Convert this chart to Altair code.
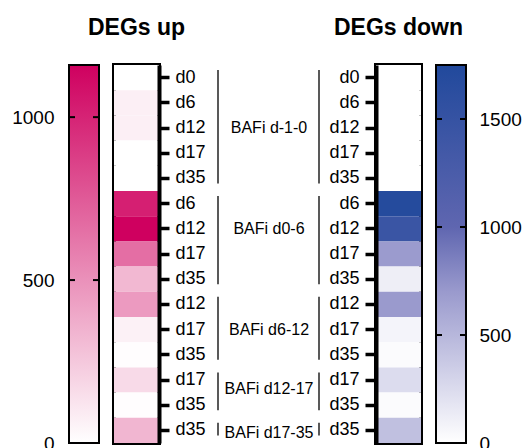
import altair as alt
import pandas as pd

# ---------------- data ----------------
groups = ["BAFi d-1-0", "BAFi d0-6", "BAFi d6-12", "BAFi d12-17", "BAFi d17-35"]
group_days = [
    ["d0", "d6", "d12", "d17", "d35"],
    ["d6", "d12", "d17", "d35"],
    ["d12", "d17", "d35"],
    ["d17", "d35"],
    ["d35"],
]
degs_up = [0, 75, 75, 0, 0, 1020, 1160, 660, 325, 460, 65, 10, 170, 8, 330]
degs_down = [0, 0, 0, 0, 0, 1700, 1450, 690, 120, 700, 75, 28, 245, 28, 435]
label_rows = [2.5, 6.5, 10.5, 12.85, 14.6]  # vertical position of group labels (in rows)

up_max = 1160
down_max = 1750
up_ticks = [0, 500, 1000]
down_ticks = [0, 500, 1000, 1500]

days_flat = [d for g in group_days for d in g]
row_keys = [f"{i:02d}_{d}" for i, d in enumerate(days_flat)]
n_rows = len(row_keys)

df = pd.DataFrame({"row": row_keys, "day": days_flat, "up": degs_up, "down": degs_down})

counts = [len(g) for g in group_days]
starts = [sum(counts[:i]) for i in range(len(counts))]
grp = pd.DataFrame({"group": groups, "start": starts, "n": counts, "lab": label_rows})

# ---------------- styling ----------------
FONT = "Liberation Sans"
H = 378
CBW = 30
HMW = 45
MIDW = 187
PINK = "#CF005F"
BLUE_RANGE = ["#FFFFFF", "#9A9ACD", "#5F66B0", "#21499C"]
BLUE_DOMAIN = [0, 700, 1000, down_max]

no_stroke = alt.ViewBackground(stroke="transparent")
box_stroke = alt.ViewBackground(stroke="black", strokeWidth=4)

band = alt.Scale(domain=row_keys, paddingInner=0, paddingOuter=0)


def heat_axis(orient, tick_size):
    return alt.Axis(
        orient=orient,
        labelExpr="split(datum.value, '_')[1]",
        labelFontSize=18,
        labelColor="black",
        labelPadding=6,
        ticks=True,
        tickSize=tick_size,
        tickWidth=3.5,
        tickColor="black",
        domain=True,
        domainColor="black",
        domainWidth=4,
        grid=False,
        title=None,
    )


def colorbar(maxv, ticks, stops, orient):
    base = pd.DataFrame({"lo": [0], "hi": [maxv]})
    scale = alt.Scale(domain=[0, maxv], nice=False, zero=True)
    grad = {"gradient": "linear", "x1": 0, "x2": 0, "y1": 1, "y2": 0, "stops": stops}
    bar = alt.Chart(base).mark_rect(fill=grad, stroke="black", strokeWidth=2).encode(
        y=alt.Y(
            "lo:Q",
            scale=scale,
            axis=alt.Axis(
                orient=orient,
                values=ticks,
                format="d",
                ticks=False,
                domain=False,
                grid=False,
                labelFontSize=19,
                labelColor="black",
                labelPadding=15 if orient == "left" else 13,
                title=None,
            ),
        ),
        y2="hi:Q",
        x=alt.value(0),
        x2=alt.value(CBW),
    )
    tdf = pd.DataFrame({"t": ticks})
    tl = alt.Chart(tdf).mark_rule(color="black", strokeWidth=2).encode(
        y=alt.Y("t:Q", scale=scale), x=alt.value(0), x2=alt.value(6)
    )
    tr = alt.Chart(tdf).mark_rule(color="black", strokeWidth=2).encode(
        y=alt.Y("t:Q", scale=scale), x=alt.value(CBW - 6), x2=alt.value(CBW)
    )
    return alt.layer(bar, tl, tr).properties(width=CBW, height=H, view=no_stroke)


cb_up = colorbar(
    up_max, up_ticks,
    [{"offset": 0, "color": "#FFFFFF"}, {"offset": 1, "color": PINK}],
    "left",
)
cb_down = colorbar(
    down_max, down_ticks,
    [{"offset": v / down_max, "color": c} for v, c in zip(BLUE_DOMAIN, BLUE_RANGE)],
    "right",
)

title_kw = dict(fontSize=23, fontWeight="bold", font=FONT, offset=25, color="black")

heat_up = alt.Chart(df).mark_rect().encode(
    y=alt.Y("row:N", sort=row_keys, scale=band, axis=heat_axis("right", 10)),
    color=alt.Color(
        "up:Q",
        scale=alt.Scale(domain=[0, up_max], range=["#FFFFFF", PINK], interpolate="rgb"),
        legend=None,
    ),
).properties(
    width=HMW, height=H, view=box_stroke,
    title=alt.TitleParams("DEGs up", **title_kw),
)

heat_down = alt.Chart(df).mark_rect().encode(
    y=alt.Y("row:N", sort=row_keys, scale=band, axis=heat_axis("left", 11)),
    color=alt.Color(
        "down:Q",
        scale=alt.Scale(domain=BLUE_DOMAIN, range=BLUE_RANGE, interpolate="rgb"),
        legend=None,
    ),
).properties(
    width=HMW, height=H, view=box_stroke,
    title=alt.TitleParams("DEGs down", **title_kw),
)

ysc = alt.Scale(domain=[0, n_rows], reverse=True, nice=False, zero=False)
mid_base = alt.Chart(grp).transform_calculate(
    y1="datum.start + 0.2", y2="datum.start + datum.n - 0.3"
)
line_l = mid_base.mark_rule(color="#222222", strokeWidth=1.5).encode(
    y=alt.Y("y1:Q", scale=ysc, axis=None), y2="y2:Q", x=alt.value(44)
)
line_r = mid_base.mark_rule(color="#222222", strokeWidth=1.5).encode(
    y=alt.Y("y1:Q", scale=ysc, axis=None), y2="y2:Q", x=alt.value(145)
)
labels = alt.Chart(grp).mark_text(
    fontSize=16, font=FONT, color="black", align="center", baseline="middle"
).encode(y=alt.Y("lab:Q", scale=ysc, axis=None), x=alt.value(95), text="group:N")
middle = alt.layer(line_l, line_r, labels).properties(width=MIDW, height=H, view=no_stroke)

chart = alt.hconcat(
    cb_up, heat_up, middle, heat_down, cb_down, spacing=15, bounds="flush"
).resolve_scale(
    color="independent", y="independent"
).properties(
    padding={"left": 11, "top": 15, "right": 0, "bottom": 0}
).configure(
    font=FONT
).configure_axis(
    labelFont=FONT
)

chart.save("out.html", embed_options={"renderer": "svg", "actions": False})
